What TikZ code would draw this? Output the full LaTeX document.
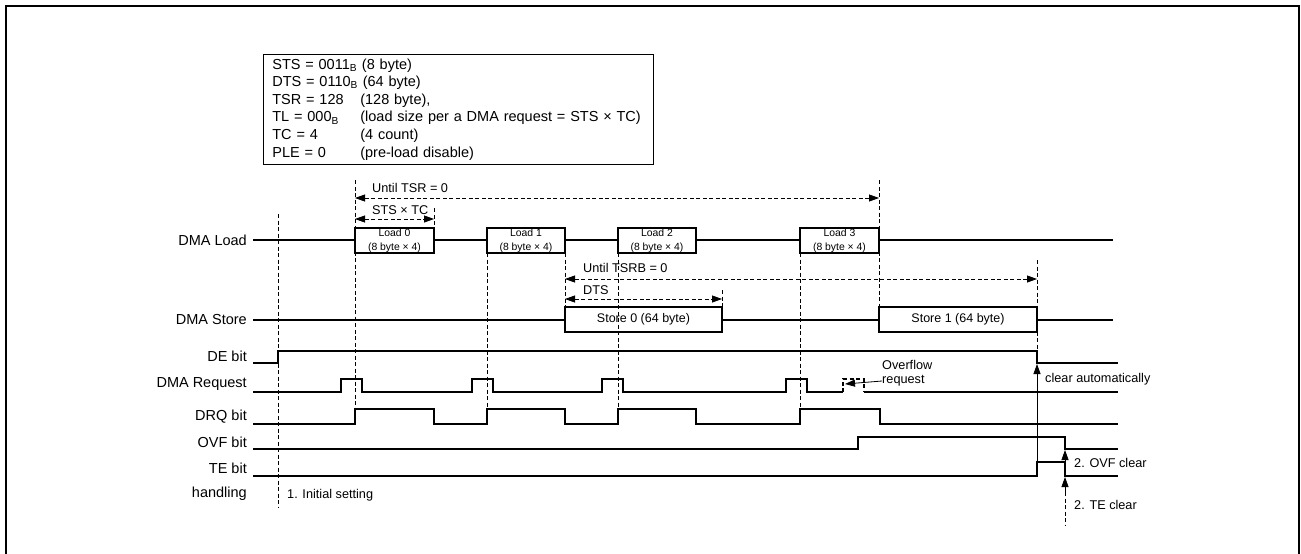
\documentclass[tikz,border=0pt]{standalone}
\usepackage{fontspec}
\setmainfont{Liberation Sans}
\usetikzlibrary{arrows.meta,positioning}

\begin{document}
\begin{tikzpicture}[x=1pt,y=-1pt,>={Triangle[length=10pt,width=7pt]},
sig/.style={line width=1.6pt},
guide/.style={dash pattern=on 4pt off 2.5pt,line width=0.8pt},
dim/.style={guide,<->},
lab/.style={anchor=east,inner sep=0pt,font=\fontsize{14.5}{17}\selectfont},
note/.style={anchor=west,inner sep=0pt,font=\fontsize{12.7}{15}\selectfont},
ldbox/.style={draw,line width=1.6pt,fill=white,minimum height=25pt,inner sep=0pt,outer sep=0pt,align=center,font=\fontsize{10.4}{14}\selectfont},
stbox/.style={draw,line width=1.6pt,fill=white,minimum height=25pt,inner sep=0pt,outer sep=0pt,font=\fontsize{12.5}{15}\selectfont}]
\useasboundingbox(0,0)rectangle(1301,554);
\draw[line width=2pt](6,570)--(6,6)--(1299,6)--(1299,570);
% setting
\node(par)[draw,line width=0.7pt,anchor=north west,minimum width=390pt,minimum height=110pt,inner xsep=9pt,text width=372pt,align=left,font=\fontsize{14.5}{17.6}\selectfont]at(263,54)
{STS = 0011\textsubscript{B} (8 byte)\\
DTS = 0110\textsubscript{B} (64 byte)\\
\makebox[88pt][l]{TSR = 128}(128 byte),\\
\makebox[88pt][l]{TL = 000\textsubscript{B}}(load size per a DMA request = STS × TC)\\
\makebox[88pt][l]{TC = 4}(4 count)\\
\makebox[88pt][l]{PLE = 0}(pre-load disable)};
% signal names
\node[lab](nload)at(247,240){DMA Load};
\node[lab](nstore)at(247,320){DMA Store};
\node[lab](nde)at(247,356){DE bit};
\node[lab](nreq)at(247,384){DMA Request};
\node[lab](ndrq)at(247,417){DRQ bit};
\node[lab](novf)at(247,442){OVF bit};
\node[lab](nte)at(247,468){TE bit};
\node[lab](nhdl)at(247,494){handling};
% load / store
\draw[sig](253,240)--(1113,240);
\foreach\i/\x/\w in{0/394.5/79,1/526/78,2/657/78,3/839.5/79}
\node[ldbox,minimum width=\w pt](ld\i)at(\x,240.5){Load \i\\(8 byte × 4)};
\draw[sig](253,320)--(1113,320);
\node[stbox,minimum width=157pt](st0)at(643.5,319.5){Store 0 (64 byte)};
\node[stbox,minimum width=158pt](st1)at(958,319.5){Store 1 (64 byte)};
% bits
\draw[sig](253,363)--(278,363)--(278,351)--(1037,351)--(1037,363)--(1118,363);
\draw[sig](253,392)foreach\a/\b in{341/362,472/493,602/623,786/807}{--(\a,392)--(\a,379)--(\b,379)--(\b,392)}--(843,392);
\draw[sig](864,392)--(1118,392);
\draw[guide,line width=1.2pt](843,392)--(843,379)--(864,379)--(864,392);
\draw[sig](253,424)foreach\a/\b in{355/434,487/565,618/696,800/880}{--(\a,424)--(\a,409)--(\b,409)--(\b,424)}--(1118,424);
\draw[sig](253,449)--(858,449)--(858,437)--(1065,437)--(1065,449)--(1118,449);
\draw[sig](253,476)--(1037,476)--(1037,462)--(1065,462)--(1065,476)--(1118,476);
% guides
\draw[guide](355,180)--(355,409) (434,208)--(434,228) (487,253)--(487,409)
(565,253)--(565,307) (618,253)--(618,409) (722,290)--(722,307) (800,253)--(800,409)
(879,180)--(879,307) (1037,260)--(1037,351) (278,214)--(278,508) (1065,492)--(1065,525);
\draw[dim](ld0.west|-0,198)--(ld3.east|-0,198);
\node[note](tsr)at(372,188){Until TSR = 0};
\draw[dim](ld0.west|-0,219)--(ld0.east|-0,219);
\node[note](ststc)at(372,210){STS × TC};
\draw[dim](st0.west|-0,279)--(st1.east|-0,279);
\node[note](tsrb)at(583,268){Until TSRB = 0};
\draw[dim](st0.west|-0,299)--(st0.east|-0,299);
\node[note](dts)at(583,290){DTS};
% notes
\node[note](ovf1)at(882,365){Overflow};
\node[note](ovf2)at(882,381){request};
\draw[->,line width=0.8pt](ovf2.west)--(845,384);
\draw[->,line width=0.8pt](1037,462)--(1037,364);
\node[note](clr)at(1045,379){clear automatically};
\draw[->,line width=0.8pt](1065,462)--(1065,450);
\node[note](ovfclr)at(1074,463){2. OVF clear};
\draw[->,line width=0.8pt](1065,492)--(1065,477);
\node[note](teclr)at(1074,505){2. TE clear};
\node[note](init)at(287,495){1. Initial setting};
\end{tikzpicture}
\end{document}
